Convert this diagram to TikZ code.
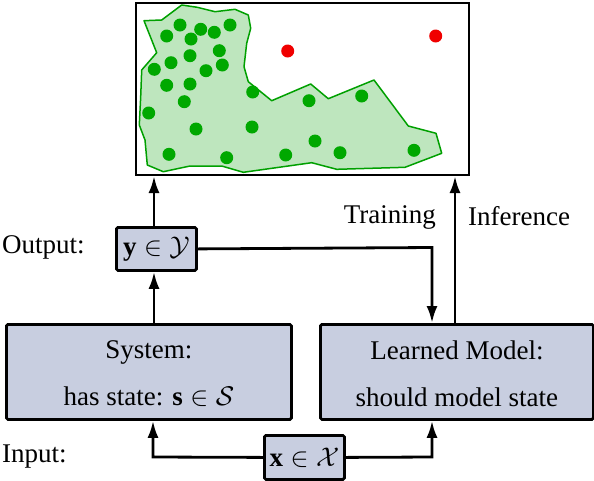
\documentclass[tikz,border=0pt]{standalone}
\RequirePackage{fix-cm}
\usepackage{amsmath,amssymb}
\usepackage{fontspec}
\setmainfont{Liberation Serif}
\usetikzlibrary{arrows.meta}
\definecolor{boxfill}{RGB}{200,206,224}
\definecolor{regfill}{RGB}{190,230,190}
\definecolor{regedge}{RGB}{0,160,0}
\definecolor{dotg}{RGB}{0,168,0}
\definecolor{dotr}{RGB}{240,0,0}
\tikzset{
  blk/.style={draw=black, line width=2.8pt, fill=boxfill, rounded corners=1.5pt, inner sep=0pt},
  conn/.style={line width=2.8pt, -{Latex[length=17pt,width=11pt]}},
  lbl/.style={inner sep=0pt, font=\fontsize{27}{32}\selectfont},
  two/.style={inner sep=0pt, align=center, font=\fontsize{27}{47}\selectfont},
  gdot/.style={fill=dotg, draw=none},
  rdot/.style={fill=dotr, draw=none},
}
\begin{document}
\begin{tikzpicture}[x=1pt,y=-1pt]
\useasboundingbox (0,0) rectangle (594,480);
% plot frame
\node[draw=black, line width=2pt, fill=white, minimum width=333pt, minimum height=172pt, inner sep=0pt, anchor=north west] (plot) at (135,2) {};
\fill[regfill, draw=regedge, line width=1.5pt, line join=round]
 (144,20.7) -- (161.7,20) -- (181.7,5) -- (197.3,7.3) -- (215,11.7) -- (235,9.3) -- (248.3,15) -- (250.7,28.3) -- (246.7,43.3) -- (244,66.7) -- (248.3,81.7) -- (271.7,100.7) -- (310.7,84) -- (328.3,98.7) -- (374,80) -- (408.3,126) -- (436,133.3) -- (441.7,153.3) -- (405,167.3) -- (336.7,169.3) -- (311.7,162.7) -- (243.3,172.3) -- (221.7,166) -- (190,166) -- (163.3,171.7) -- (147.3,165) -- (145,140) -- (139.3,125) -- (140.7,96.7) -- (141.7,70) -- (156.7,52.7) -- cycle;
\foreach \p in {(180,25),(230,25),(166.7,36),(200.7,29.3),(214.3,32.3),(191,39),(219.3,50.7),(190,55.7),(171,62.7),(154.3,69.3),(222.3,65),(206,70.7),(166.7,85.3),(190,84),(252.7,92),(184.3,101.7),(309,100.7),(361.7,96),(148.7,113),(196,129),(252,127),(315,141),(340,152.7),(414,150.3),(169,154.3),(226.7,157.7),(285.7,155)}
  \fill[gdot] \p circle (6.5pt);
\fill[rdot] (287.7,51) circle (6.5pt);
\fill[rdot] (435.7,36) circle (6.5pt);
% blocks
\node[blk, minimum width=80pt, minimum height=43pt, anchor=north west] (y) at (115,226) {};
\node[lbl] at (y.center) {$\mathbf{y}\in\mathcal{Y}$};
\node[blk, minimum width=285pt, minimum height=95pt, anchor=north west] (sys) at (5,323) {};
\node[two] at ([yshift=-2pt]sys.center) {System:\\has state: $\mathbf{s}\in\mathcal{S}$};
\node[blk, minimum width=273pt, minimum height=95pt, anchor=north west] (lm) at (319,323) {};
\node[two] at ([yshift=-2pt]lm.center) {Learned Model:\\should model state};
\node[blk, minimum width=80pt, minimum height=44pt, anchor=north west] (x) at (263,434) {};
\node[lbl] at (x.center) {$\mathbf{x}\in\mathcal{X}$};
% labels
\node[lbl, anchor=base west] (outl) at (2,253) {Output:};
\node[lbl, anchor=base west] (inl) at (2,462) {Input:};
\node[lbl, anchor=base east] (trl) at (436,223) {Training};
\node[lbl, anchor=base west] (infl) at (468,225) {Inference};
% connectors
\draw[conn] (y.north -| 154,0) -- (plot.south -| 154,0);
\draw[conn] (sys.north -| 154,0) -- (y.south -| 154,0);
\draw[conn] (x.west) -- (153,457) -- (sys.south -| 153,0);
\draw[conn] (x.east) -- (432,457) -- (lm.south -| 432,0);
\draw[conn] (y.east) -- (432,247.5) -- (lm.north -| 432,0);
\draw[conn] (lm.north -| 455,0) -- (plot.south -| 455,0);
\end{tikzpicture}
\end{document}
